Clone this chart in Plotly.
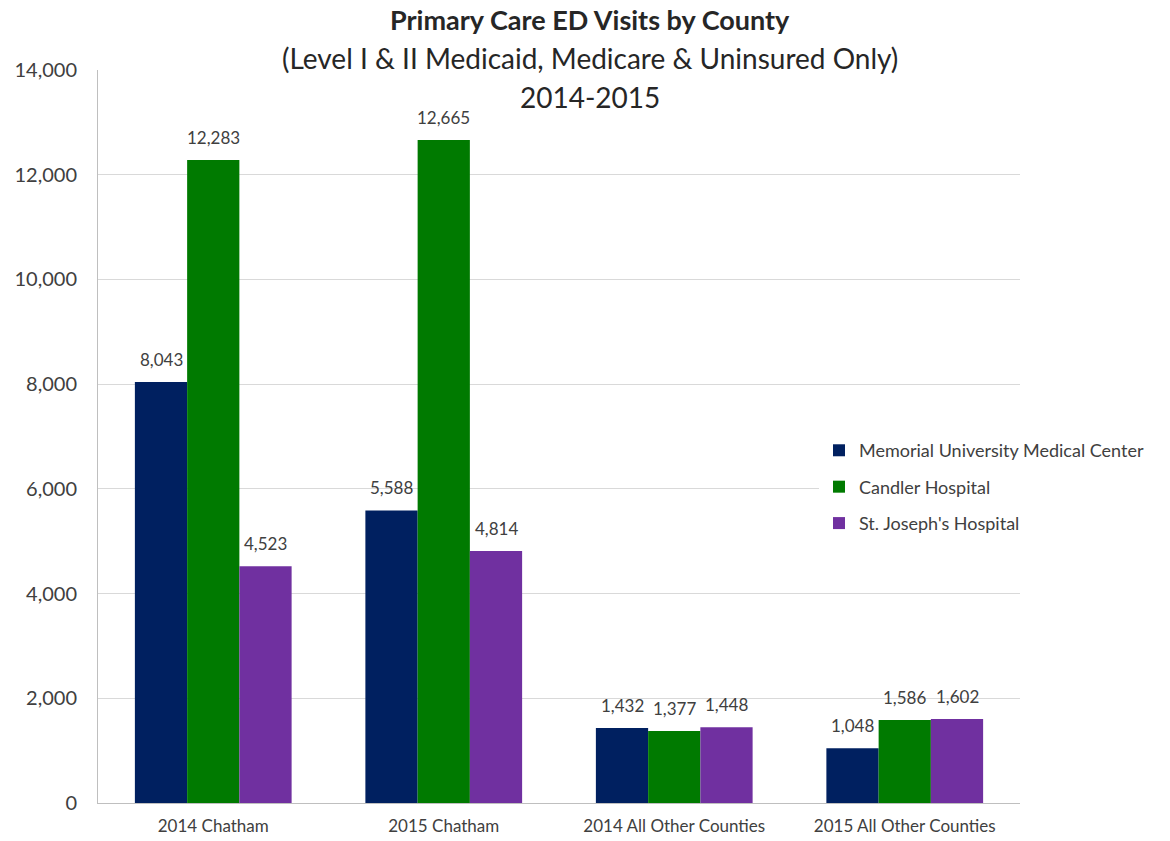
import plotly.graph_objects as go

categories = ["2014 Chatham", "2015 Chatham", "2014 All Other Counties", "2015 All Other Counties"]
memorial = [8043, 5588, 1432, 1048]
candler = [12283, 12665, 1377, 1586]
st_joseph = [4523, 4814, 1448, 1602]

series = [
    ("Memorial University Medical Center", memorial, "#002060"),
    ("Candler Hospital", candler, "#007A00"),
    ("St. Joseph's Hospital", st_joseph, "#7030A0"),
]

FONT = "Lato"
TEXT = "#404040"
BARGAP = 0.32
bar_w = (1 - BARGAP) / len(series)

fig = go.Figure()
for i, (name, vals, color) in enumerate(series):
    fig.add_trace(go.Bar(
        name=name, x=categories, y=vals,
        marker=dict(color=color, line=dict(width=0)),
        legendgroup=f"g{i}",
    ))
    # value labels above each bar, placed at the bar's slot within its group
    offset = (i - (len(series) - 1) / 2) * bar_w
    for k, v in enumerate(vals):
        fig.add_annotation(x=k + offset, y=v, xref="x", yref="y",
                           text=f"{v:,}", showarrow=False,
                           xanchor="center", yanchor="bottom", yshift=10,
                           font=dict(family=FONT, size=17, color=TEXT))

fig.update_layout(
    width=1170, height=841,
    margin=dict(l=98, r=150, t=70, b=38),
    paper_bgcolor="white", plot_bgcolor="white",
    barmode="group", bargap=BARGAP, bargroupgap=0,
    font=dict(family=FONT, color=TEXT),
    showlegend=True,
    legend=dict(x=0.782, y=0.431, xanchor="left", yanchor="middle",
                font=dict(family=FONT, size=18, color=TEXT),
                tracegroupgap=10, itemwidth=30),
    xaxis=dict(showline=True, linecolor="#bfbfbf", linewidth=1, ticks="",
               automargin=False, ticklabelstandoff=8,
               tickfont=dict(family=FONT, size=17, color=TEXT)),
    yaxis=dict(range=[0, 14000], dtick=2000, tickformat=",",
               showgrid=True, gridcolor="#d9d9d9", gridwidth=1,
               showline=True, linecolor="#bfbfbf", linewidth=1,
               zeroline=False, ticks="", automargin=False, ticklabelstandoff=16,
               tickfont=dict(family=FONT, size=20, color=TEXT)),
)

title_lines = [
    ("<b>Primary Care ED Visits by County</b>", 20, 27),
    ("(Level I & II Medicaid, Medicare & Uninsured Only)", 58, 28),
    ("2014-2015", 97, 28),
]
for txt, ypx, size in title_lines:
    fig.add_annotation(text=txt, xref="paper", yref="paper",
                       x=(590 - 98) / 922, y=1 + (70 - ypx) / 733,
                       xanchor="center", yanchor="middle", showarrow=False,
                       font=dict(family=FONT, size=size, color="#262626"))

fig.write_html("out.html")
